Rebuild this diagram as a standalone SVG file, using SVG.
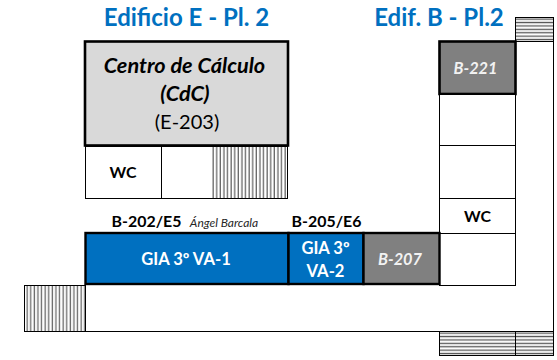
<svg xmlns="http://www.w3.org/2000/svg" width="557" height="360" viewBox="0 0 557 360">
<style>
text{font-family:Lato,"Liberation Sans",sans-serif;text-anchor:middle}
.t{font-size:24px;font-weight:700;fill:#0070c0}
.lb{font-size:15.900px;font-weight:700;fill:#000}
.w{font-size:16.600px;font-weight:700;fill:#fff}
.gi{font-size:16.300px;font-weight:700;font-style:italic;fill:#f2f2f2}
.c{fill:#fff;stroke:#000;stroke-width:1}
</style>
<defs>
<pattern id="v" width="3.600" height="10" patternUnits="userSpaceOnUse" x="212"><rect x="0.500" width="1.300" height="10" fill="#666"/></pattern>
<pattern id="v2" width="3.600" height="10" patternUnits="userSpaceOnUse" x="25"><rect x="1.500" width="1.300" height="10" fill="#666"/></pattern>
<pattern id="hz" width="10" height="3.400" patternUnits="userSpaceOnUse" y="17"><rect y="1.500" width="10" height="1.300" fill="#555"/></pattern>
<pattern id="hz2" width="10" height="3.400" patternUnits="userSpaceOnUse" y="331"><rect y="1.500" width="10" height="1.300" fill="#555"/></pattern>
</defs>
<g id="titles">
<text class="t" x="186.500" y="26">Edificio E - Pl. 2</text>
<text class="t" x="439" y="26">Edif. B - Pl.2</text>
</g>
<g id="corridor">
<path class="c" d="M85.500 285.500V331.500H553.500V41.500H515.500V285.500" fill="none"/>
</g>
<g id="stair-left">
<rect x="24.500" y="285.500" width="61" height="46" fill="url(#v2)" stroke="#000"/>
</g>
<g id="stair-top">
<rect x="515.500" y="17.500" width="38" height="24" fill="url(#hz)" stroke="#000"/>
</g>
<g id="stair-bottom">
<rect x="439.500" y="331.500" width="114" height="24" fill="url(#hz2)" stroke="#000"/>
<path d="M515.500 331.500V355.500" stroke="#000"/>
</g>
<g id="cdc">
<rect x="85" y="41.500" width="203" height="104" fill="#d9d9d9" stroke="#000" stroke-width="2.600"/>
<text x="184.500" y="73" font-size="21.700" font-weight="700" font-style="italic">Centro de Cálculo</text>
<text x="185" y="101" font-size="21.700" font-weight="700" font-style="italic">(CdC)</text>
<text x="187" y="129" font-size="20">(E-203)</text>
</g>
<g id="wc-e">
<rect class="c" x="85.500" y="146.500" width="76" height="52"/>
<text class="lb" x="123" y="178">WC</text>
</g>
<g id="room-e">
<rect class="c" x="161.500" y="146.500" width="126" height="52"/>
<rect x="212" y="147" width="75" height="51" fill="url(#v)"/>
</g>
<g id="b221">
<rect x="439.500" y="41.500" width="76" height="52.500" fill="#808080" stroke="#000" stroke-width="2.600"/>
<text class="gi" x="475.500" y="74">B-221</text>
</g>
<g id="room-b1"><rect class="c" x="439.500" y="94.500" width="76" height="51"/></g>
<g id="room-b2"><rect class="c" x="439.500" y="145.500" width="76" height="53"/></g>
<g id="wc-b">
<rect class="c" x="439.500" y="198.500" width="76" height="35"/>
<text class="lb" x="477.500" y="222">WC</text>
</g>
<g id="room-b3"><rect class="c" x="439.500" y="233.500" width="76" height="52"/></g>
<g id="gia1">
<rect x="85.500" y="233" width="203" height="51" fill="#0070c0" stroke="#000" stroke-width="2.400"/>
<text class="w" x="186" y="265">GIA 3º VA-1</text>
</g>
<g id="gia2">
<rect x="288.500" y="233" width="75" height="51" fill="#0070c0" stroke="#000" stroke-width="2.400"/>
<text class="w" x="325.500" y="254">GIA 3º</text>
<text class="w" x="325.500" y="277">VA-2</text>
</g>
<g id="b207">
<rect x="363.500" y="233" width="76" height="51" fill="#808080" stroke="#000" stroke-width="2.400"/>
<text class="gi" x="400" y="265">B-207</text>
</g>
<g id="labels">
<text class="lb" x="146.500" y="227">B-202/E5</text>
<text x="224" y="227" font-size="12" font-style="italic" fill="#262626">Ángel Barcala</text>
<text class="lb" x="326.500" y="227">B-205/E6</text>
</g>
</svg>
